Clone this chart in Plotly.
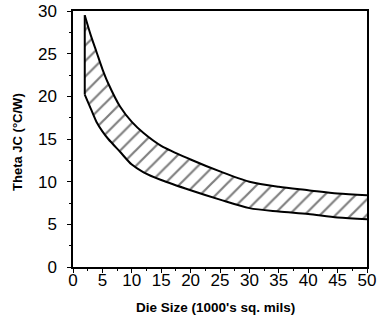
import plotly.graph_objects as go

die_size = [2, 3, 4, 5, 6, 8, 10, 12, 15, 20, 25, 30, 35, 40, 45, 50]
theta_upper = [29.5, 27.2, 25.2, 23.2, 21.5, 18.8, 17.0, 15.7, 14.2, 12.6, 11.2, 10.0, 9.4, 9.0, 8.6, 8.4]
theta_lower = [20.2, 18.6, 17.0, 15.9, 15.0, 13.5, 12.0, 11.1, 10.2, 9.0, 7.9, 6.9, 6.5, 6.2, 5.8, 5.6]

x_ticks = [0, 5, 10, 15, 20, 25, 30, 35, 40, 45, 50]
y_ticks = [0, 5, 10, 15, 20, 25, 30]

x_title = "Die Size (1000's sq. mils)"
y_title = "Theta JC (°C/W)"

FONT = "Liberation Sans, Arial, sans-serif"

fig = go.Figure()
fig.add_trace(go.Scatter(
    x=die_size, y=theta_lower, mode="lines",
    line=dict(color="black", width=2, shape="spline", smoothing=0.8),
    showlegend=False, hoverinfo="skip"))
fig.add_trace(go.Scatter(
    x=die_size, y=theta_upper, mode="lines",
    line=dict(color="black", width=2, shape="spline", smoothing=0.8),
    fill="tonexty", fillcolor="white",
    fillpattern=dict(shape="/", size=11, solidity=0.2, fgcolor="black", bgcolor="white"),
    showlegend=False, hoverinfo="skip"))
# left closing edge of the band
fig.add_trace(go.Scatter(
    x=[die_size[0], die_size[0]], y=[theta_lower[0], theta_upper[0]], mode="lines",
    line=dict(color="black", width=2), showlegend=False, hoverinfo="skip"))

fig.update_layout(
    width=379, height=321,
    margin=dict(l=73, r=12, t=11, b=54),
    paper_bgcolor="white", plot_bgcolor="white",
    font=dict(family=FONT, color="black"),
    annotations=[
        dict(text="<b>" + x_title + "</b>", xref="paper", yref="paper",
             x=0.484, y=-0.160, xanchor="center", yanchor="middle",
             showarrow=False, font=dict(size=13.5, family=FONT)),
        dict(text="<b>" + y_title + "</b>", xref="paper", yref="paper",
             x=-0.191, y=0.488, xanchor="center", yanchor="middle", textangle=-90,
             showarrow=False, font=dict(size=13, family=FONT)),
    ],
)
fig.update_xaxes(
    range=[0, 50], tickvals=x_ticks, ticktext=[str(v) for v in x_ticks],
    automargin=False,
    showgrid=False, zeroline=False, showline=True, linecolor="black", linewidth=1.5,
    mirror=True, ticks="outside", ticklen=4, tickwidth=1.2, tickcolor="black",
    minor=dict(dtick=2.5, ticks="outside", ticklen=2, tickwidth=1, tickcolor="black"),
    tickfont=dict(size=17, family=FONT), ticklabelstandoff=-7,
)
fig.update_yaxes(
    range=[0, 30], tickvals=y_ticks, ticktext=[str(v) for v in y_ticks],
    automargin=False,
    showgrid=False, zeroline=False, showline=True, linecolor="black", linewidth=1.5,
    mirror=True, ticks="outside", ticklen=4, tickwidth=1.2, tickcolor="black",
    minor=dict(dtick=2.5, ticks="outside", ticklen=2, tickwidth=1, tickcolor="black"),
    tickfont=dict(size=17, family=FONT), ticklabelstandoff=7,
)

fig.write_html("out.html",
               config={"displayModeBar": False},
               post_script="document.body.style.margin='0';document.body.style.overflow='hidden';")
